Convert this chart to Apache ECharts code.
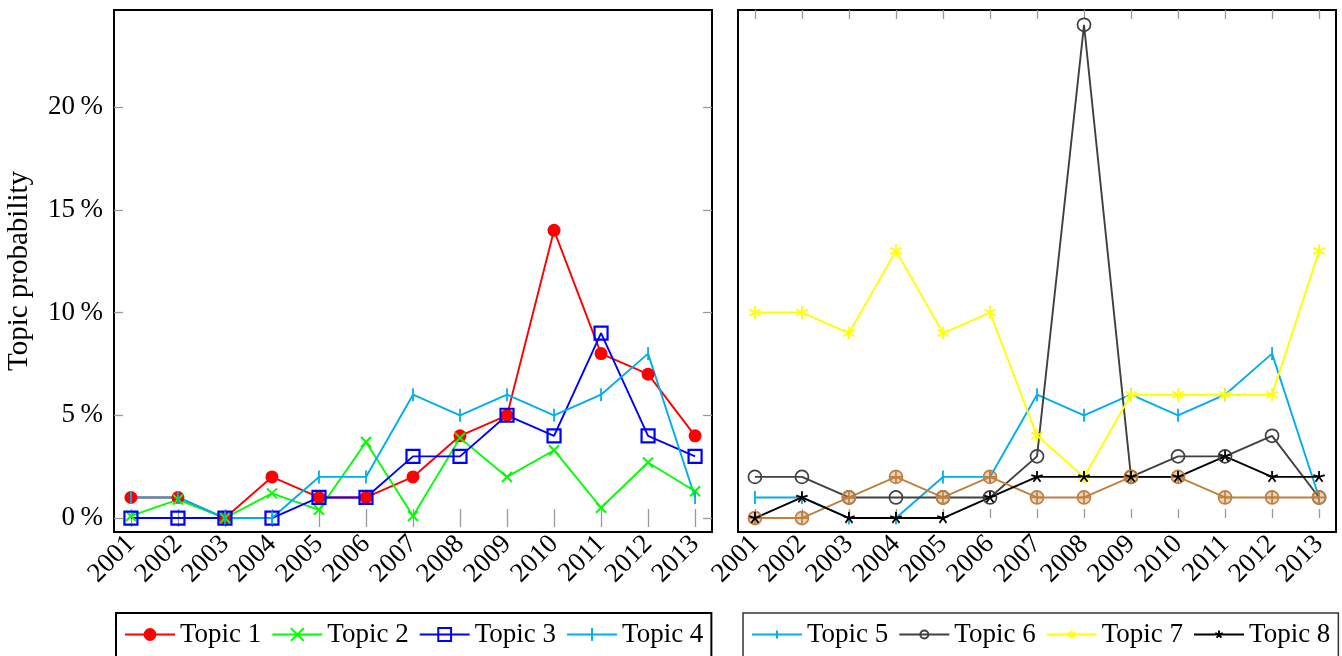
<!DOCTYPE html>
<html>
<head>
<meta charset="utf-8">
<script src="https://cdn.jsdelivr.net/npm/echarts@6/dist/echarts.min.js"></script>
<style>
  html, body { margin: 0; padding: 0; background: #ffffff; }
  #chart { width: 1342px; height: 656px; }
</style>
</head>
<body>
<div id="chart"></div>
<script>
// Years on the x axis and tick positions on the y axis (percent)
const years = [2001, 2002, 2003, 2004, 2005, 2006, 2007, 2008, 2009, 2010, 2011, 2012, 2013];
const yTicks = [0, 5, 10, 15, 20];

// Topic probabilities per year, in percent
const topic1 = [1, 1, 0, 2, 1, 1, 2, 4, 5, 14, 8, 7, 4];
const topic2 = [0.1, 0.9, 0, 1.2, 0.4, 3.7, 0.1, 3.9, 2, 3.3, 0.5, 2.7, 1.3];
const topic3 = [0, 0, 0, 0, 1, 1, 3, 3, 5, 4, 9, 4, 3];
const topic4 = [1, 1, 0, 0, 2, 2, 6, 5, 6, 5, 6, 8, 1];
const topic5 = [1, 1, 0, 0, 2, 2, 6, 5, 6, 5, 6, 8, 1];
const topic6 = [2, 2, 1, 1, 1, 1, 3, 24, 2, 3, 3, 4, 1];
const topic7 = [10, 10, 9, 13, 9, 10, 4, 2, 6, 6, 6, 6, 13];
const topic8 = [0, 1, 0, 0, 0, 1, 2, 2, 2, 2, 3, 2, 2];
const topic9 = [0, 0, 1, 2, 1, 2, 1, 1, 2, 2, 1, 1, 1];

const leftLegend = ['Topic 1', 'Topic 2', 'Topic 3', 'Topic 4'];
const rightLegend = ['Topic 5', 'Topic 6', 'Topic 7', 'Topic 8'];

const FONT = '"Liberation Serif", "Times New Roman", serif';
const FS = 27;
const X_MIN = 2000.64, X_MAX = 2013.36;
const Y_MIN = -0.68, Y_MAX = 24.72;
const LW = 1.9;

// Marker outlines drawn inside a 10x10 box (leading moves keep the box square)
const BOX = 'M0,0M10,10';
const MARK = {
  cross: 'path://M0,0L10,10M10,0L0,10',
  bar: 'path://' + BOX + 'M5,0L5,10',
  square: 'path://M0,0L10,0L10,10L0,10Z',
  ring: 'path://' + BOX + 'M10,5A5,5,0,1,1,0,5A5,5,0,1,1,10,5Z',
  oplus: 'path://' + BOX + 'M10,5A5,5,0,1,1,0,5A5,5,0,1,1,10,5ZM0,5L10,5M5,0L5,10',
  asterisk: 'path://' + BOX + 'M5,0L5,10M9.33,2.5L0.67,7.5M0.67,2.5L9.33,7.5',
  star: 'path://' + BOX + 'M5,5L5,0M5,5L9.755,3.455M5,5L0.245,3.455M5,5L2.061,9.045M5,5L7.939,9.045'
};

function lineSeries(name, values, color, symbol, size, fill, border, gridIdx) {
  return {
    type: 'line',
    name: name,
    xAxisIndex: gridIdx === 0 ? 0 : 2,
    yAxisIndex: gridIdx === 0 ? 0 : 2,
    data: years.map((y, i) => [y, values[i]]),
    symbol: symbol,
    symbolSize: size,
    showSymbol: true,
    lineStyle: { color: color, width: LW },
    itemStyle: { color: fill, borderColor: color, borderWidth: border },
    emphasis: { disabled: true },
    animation: false
  };
}

function tickAxis(gridIndex, position, values, withLabels) {
  return {
    type: 'value',
    gridIndex: gridIndex,
    position: position,
    min: X_MIN,
    max: X_MAX,
    axisLine: { show: false },
    splitLine: { show: false },
    axisTick: {
      show: true, inside: true, length: 9, customValues: values,
      lineStyle: { color: '#9a9a9a', width: 1.3 }
    },
    axisLabel: withLabels ? {
      show: true, customValues: values, rotate: 45, margin: 8,
      fontFamily: FONT, fontSize: FS, color: '#000',
      formatter: v => String(Math.round(v))
    } : { show: false }
  };
}

function yAxis(gridIndex, position, ticks, labels, name) {
  const ax = {
    type: 'value',
    gridIndex: gridIndex,
    position: position,
    min: Y_MIN,
    max: Y_MAX,
    axisLine: { show: false },
    splitLine: { show: false },
    axisTick: ticks ? {
      show: true, inside: true, length: 9, customValues: yTicks,
      lineStyle: { color: '#9a9a9a', width: 1.3 }
    } : { show: false },
    axisLabel: labels ? {
      show: true, customValues: yTicks, margin: 11,
      fontFamily: FONT, fontSize: FS, color: '#000',
      formatter: v => Math.round(v) + '\u2009%'
    } : { show: false }
  };
  if (name) {
    ax.name = name;
    ax.nameLocation = 'middle';
    ax.nameGap = 80;
    ax.nameTextStyle = { fontFamily: FONT, fontSize: 29, color: '#000' };
  }
  return ax;
}

const chart = echarts.init(document.getElementById('chart'), null, { renderer: 'canvas' });

chart.setOption({
  animation: false,
  backgroundColor: '#ffffff',
  grid: [
    { left: 114, top: 10, width: 598, height: 522, show: true, borderColor: '#000', borderWidth: 2, backgroundColor: 'transparent' },
    { left: 738, top: 10, width: 598, height: 522, show: true, borderColor: '#000', borderWidth: 2, backgroundColor: 'transparent' }
  ],
  xAxis: [
    tickAxis(0, 'bottom', years, true),
    tickAxis(0, 'top', years, false),
    tickAxis(1, 'bottom', years, true),
    tickAxis(1, 'top', years, false)
  ],
  yAxis: [
    yAxis(0, 'left', true, true, 'Topic probability'),
    yAxis(0, 'right', true, false),
    yAxis(1, 'left', false, false)
  ],
  legend: [
    {
      data: leftLegend,
      left: 116, top: 613,
      orient: 'horizontal',
      itemWidth: 50, itemHeight: 16, itemGap: 10,
      padding: [8, 8, 20, 8],
      borderColor: '#000', borderWidth: 2, borderRadius: 0,
      selectedMode: false,
      textStyle: { fontFamily: FONT, fontSize: FS, color: '#000' }
    },
    {
      data: rightLegend,
      left: 743, top: 613,
      orient: 'horizontal',
      itemWidth: 50, itemHeight: 10, itemGap: 10,
      padding: [8, 8, 20, 8],
      borderColor: '#333', borderWidth: 1.5, borderRadius: 0,
      selectedMode: false,
      textStyle: { fontFamily: FONT, fontSize: FS, color: '#000' }
    }
  ],
  series: [
    lineSeries('Topic 1', topic1, '#ff0000', 'circle', 13, '#ff0000', 0, 0),
    lineSeries('Topic 2', topic2, '#00ff00', MARK.cross, 10, 'transparent', 2, 0),
    lineSeries('Topic 3', topic3, '#0000ff', MARK.square, 13, 'transparent', 2.2, 0),
    lineSeries('Topic 4', topic4, '#00aeef', MARK.bar, 13, 'transparent', 1.8, 0),
    lineSeries('Topic 5', topic5, '#00aeef', MARK.bar, 13, 'transparent', 1.8, 1),
    lineSeries('Topic 6', topic6, '#404040', MARK.ring, 13, 'transparent', 1.7, 1),
    lineSeries('Topic 9', topic9, '#bf8040', MARK.oplus, 13, 'rgba(191,128,64,0.35)', 1.7, 1),
    lineSeries('Topic 7', topic7, '#ffff00', MARK.asterisk, 13, 'transparent', 1.8, 1),
    lineSeries('Topic 8', topic8, '#000000', MARK.star, 12, 'transparent', 1.8, 1)
  ]
});
</script>
</body>
</html>
